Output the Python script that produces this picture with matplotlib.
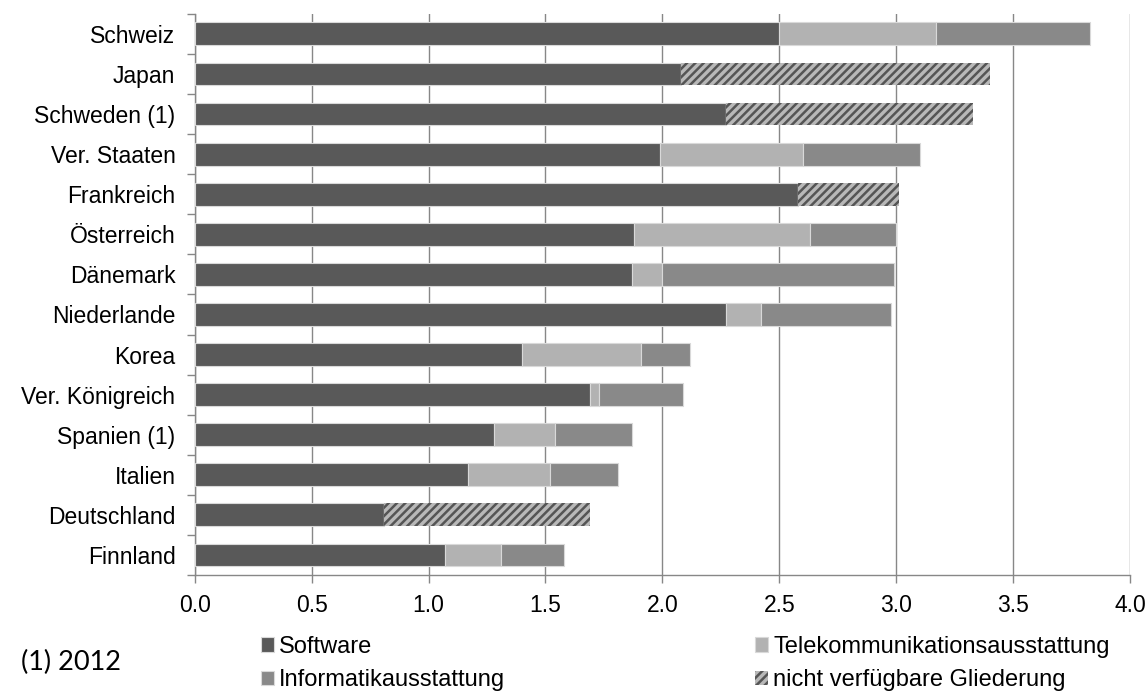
import numpy as np
import matplotlib
matplotlib.use("Agg")
import matplotlib.pyplot as plt

# Werte in %
laender = ["Schweiz", "Japan", "Schweden (1)", "Ver. Staaten", "Frankreich",
           "Österreich", "Dänemark", "Niederlande", "Korea", "Ver. Königreich",
           "Spanien (1)", "Italien", "Deutschland", "Finnland"]
software = [2.50, 2.08, 2.27, 1.99, 2.58, 1.88, 1.87, 2.27, 1.40, 1.69, 1.28, 1.17, 0.81, 1.07]
telekom = [0.67, 0.0, 0.0, 0.61, 0.0, 0.75, 0.13, 0.15, 0.51, 0.04, 0.26, 0.35, 0.0, 0.24]
informatik = [0.66, 0.0, 0.0, 0.50, 0.0, 0.37, 0.99, 0.56, 0.21, 0.36, 0.33, 0.29, 0.0, 0.27]
nicht_verf = [0.0, 1.32, 1.06, 0.0, 0.43, 0.0, 0.0, 0.0, 0.0, 0.0, 0.0, 0.0, 0.88, 0.0]
xticks = [0.0, 0.5, 1.0, 1.5, 2.0, 2.5, 3.0, 3.5, 4.0]

plt.rcParams['font.family'] = ['Liberation Sans', 'DejaVu Sans']
plt.rcParams['hatch.linewidth'] = 1.8

fig = plt.figure(figsize=(11.46, 6.92), dpi=100)
ax = fig.add_axes([0.170, 0.169, 0.816, 0.811])

y = np.arange(len(laender))
sw = np.array(software)
te = np.array(telekom)
inf = np.array(informatik)
nv = np.array(nicht_verf)
h = 0.57
kante = dict(edgecolor='#d9d9d9', linewidth=0.8)

b1 = ax.barh(y, sw, height=h, color='#595959', label='Software', zorder=3, **kante)
b2 = ax.barh(y, te, left=sw, height=h, color='#b2b2b2',
             label='Telekommunikationsausstattung', zorder=3, **kante)
b3 = ax.barh(y, inf, left=sw + te, height=h, color='#898989',
             label='Informatikausstattung', zorder=3, **kante)
b4 = ax.barh(y, nv, left=sw + te + inf, height=h, facecolor='#b8b8b8',
             edgecolor='#555555', linewidth=0, hatch='////',
             label='nicht verfügbare Gliederung', zorder=3)

ax.set_ylim(len(laender) - 0.5, -0.5)
ax.set_xlim(0, 4.0)
ax.set_xticks(xticks)
ax.set_xticklabels([f"{v:.1f}" for v in xticks])
ax.set_yticks(y)
ax.set_yticklabels(laender)
ax.set_yticks(np.arange(len(laender) + 1) - 0.5, minor=True)

ax.grid(axis='x', color='#878787', linewidth=1.0, zorder=0)
for s in ['top', 'right']:
    ax.spines[s].set_visible(False)
for s in ['left', 'bottom']:
    ax.spines[s].set_color('#878787')
    ax.spines[s].set_linewidth(1.0)

ax.tick_params(axis='y', which='major', length=0, pad=14, labelsize=16.5)
ax.tick_params(axis='y', which='minor', length=6, color='#878787', width=1)
ax.tick_params(axis='x', length=6, color='#878787', width=1, pad=8, labelsize=16.5)

fig.legend(handles=[b1, b3, b2, b4], ncol=2, loc='upper left',
           bbox_to_anchor=(0.228, 0.081), frameon=False, fontsize=17,
           handlelength=0.55, handleheight=0.55, handletextpad=0.2,
           columnspacing=10.6, labelspacing=0.48, borderaxespad=0, borderpad=0)

fig.text(0.018, 0.043, "(1) 2012", fontsize=19.5, family=['Lato', 'DejaVu Sans'],
         va='center', ha='left')

fig.savefig("out.png", dpi=100)
